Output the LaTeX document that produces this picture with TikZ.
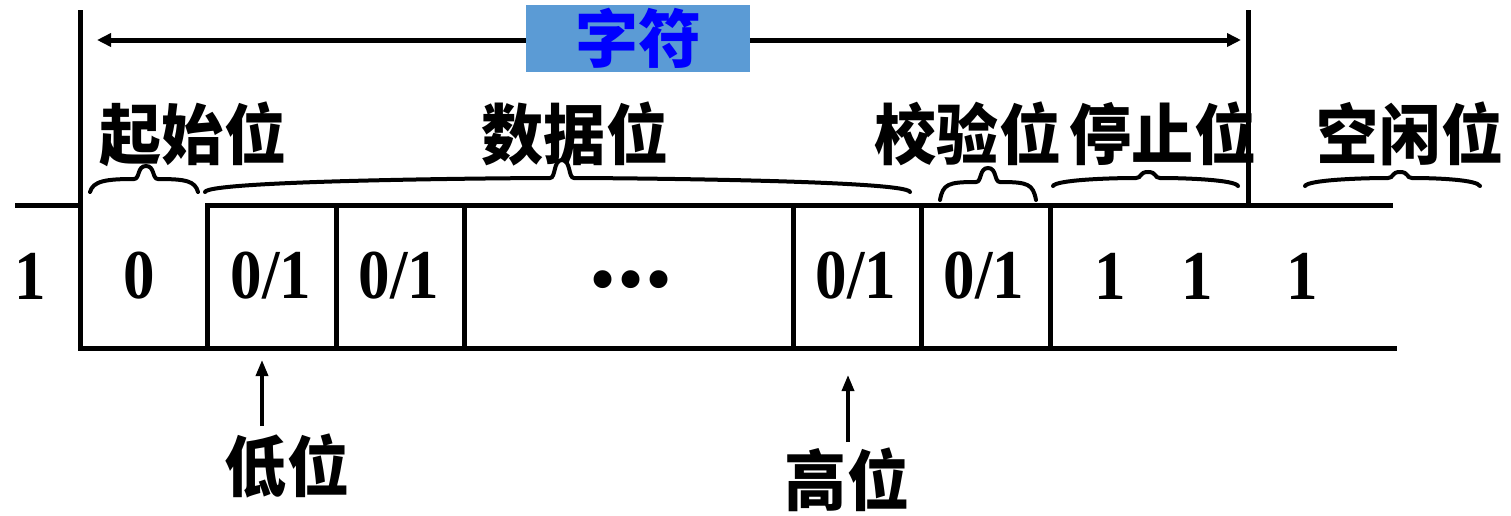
\documentclass[tikz,border=0pt]{standalone}
\usepackage{graphicx}
\usepackage{fontspec}
\setmainfont{Liberation Serif}
\newfontfamily\cjk{Noto Sans CJK SC}
\usetikzlibrary{arrows.meta}
\definecolor{boxblue}{HTML}{5B9BD5}
\definecolor{txtblue}{HTML}{0000FF}
\newcommand{\mylid}[6]{%
  \draw[lid] (#1,#4) .. controls ({#1+3},{#5+2}) and ({#3-40},#5) .. ({#3-12},#5)
   .. controls ({#3-6},#5) and ({#3-9},#6) .. (#3,#6)
   .. controls ({#3+9},#6) and ({#3+6},#5) .. ({#3+12},#5)
   .. controls ({#3+40},#5) and ({#2-3},{#5+2}) .. (#2,#4);}
\newcommand{\bitt}[1]{\scalebox{0.9}[1]{#1}}
\newcommand{\zht}[1]{\scalebox{0.94}[1]{#1}}
\begin{document}
\begin{tikzpicture}[x=1pt,y=-1pt,
  sig/.style={line width=5pt},
  lid/.style={line width=4pt, line cap=round},
  bitlbl/.style={font=\fontsize{70}{70}\selectfont\bfseries, inner sep=0pt},
  zh/.style={font=\cjk\fontsize{66}{66}\selectfont\bfseries, inner sep=0pt},
  arr/.style={line width=3.5pt, -{Triangle[length=16pt,width=12pt]}},
  topArr/.style={line width=5pt, {Triangle[length=14pt,width=13pt]}-{Triangle[length=14pt,width=13pt]}}
]
\useasboundingbox (0,0) rectangle (1511,515);
% frame lines
\coordinate (lt) at (80,10);
\coordinate (lb) at (80,348);
\coordinate (rt) at (1248,10);
\coordinate (rb) at (1248,205);
\draw[sig] (lt) -- (lb);
\draw[sig] (rt) -- (rb);
% top arrow
\coordinate (aL) at (97,40);
\coordinate (aR) at (1241,40);
\draw[topArr] (aL) -- (aR);
\node[fill=boxblue, minimum width=224pt, minimum height=67pt, inner sep=0pt,
      font=\cjk\fontsize{63}{63}\selectfont\bfseries, text=txtblue] (zf) at (638,38.5) {\raisebox{-3pt}{字符}};
% signal lines
\draw[sig] (15,205) -- (80,205);
\draw[sig] (207,205) -- (1393,205);
\draw[sig] (78,348) -- (1397,348);
\foreach \x in {207,336,464,793,921,1050} \draw[sig] (\x,203) -- (\x,350);
% bit labels
\node[bitlbl] (b0) at (30,276) {\bitt{1}};
\node[bitlbl] (b1) at (139,276) {\bitt{0}};
\node[bitlbl] (b2) at (271,276) {\bitt{0/1}};
\node[bitlbl] (b3) at (399,276) {\bitt{0/1}};
\node[font=\fontsize{66}{66}\selectfont\bfseries, inner sep=0pt] (dots) at (631,286) {\textbullet\hspace{5pt}\textbullet\hspace{5pt}\textbullet};
\node[bitlbl] (b5) at (856,276) {\bitt{0/1}};
\node[bitlbl] (b6) at (984,276) {\bitt{0/1}};
\node[bitlbl] (b7) at (1110,276) {\bitt{1}};
\node[bitlbl] (b8) at (1197,276) {\bitt{1}};
\node[bitlbl] (b9) at (1302,276) {\bitt{1}};
% field labels
\node[zh] (qs) at (193,134) {\zht{起始位}};
\node[zh] (sj) at (575,134) {\zht{数据位}};
\node[zh] (jy) at (968,134) {\zht{校验位}};
\node[zh] (tz) at (1163,134) {\zht{停止位}};
\node[zh] (kx) at (1410,134) {\zht{空闲位}};
% braces
\mylid{90}{198}{146}{192}{179}{166}
\mylid{205}{910}{562}{192}{178}{160}
\mylid{940}{1036}{988}{200}{182}{168}
\mylid{1053}{1238}{1148}{186}{178}{172}
\mylid{1305}{1480}{1400}{186}{178}{172}
% bottom labels and arrows
\node[zh] (low) at (287,466) {\zht{低位}};
\node[zh] (high) at (847,480) {\zht{高位}};
\coordinate (lowS) at (262,426);
\coordinate (lowT) at (262,360);
\coordinate (highS) at (848,442);
\coordinate (highT) at (848,375);
\draw[arr] (lowS) -- (lowT);
\draw[arr] (highS) -- (highT);
\end{tikzpicture}
\end{document}
